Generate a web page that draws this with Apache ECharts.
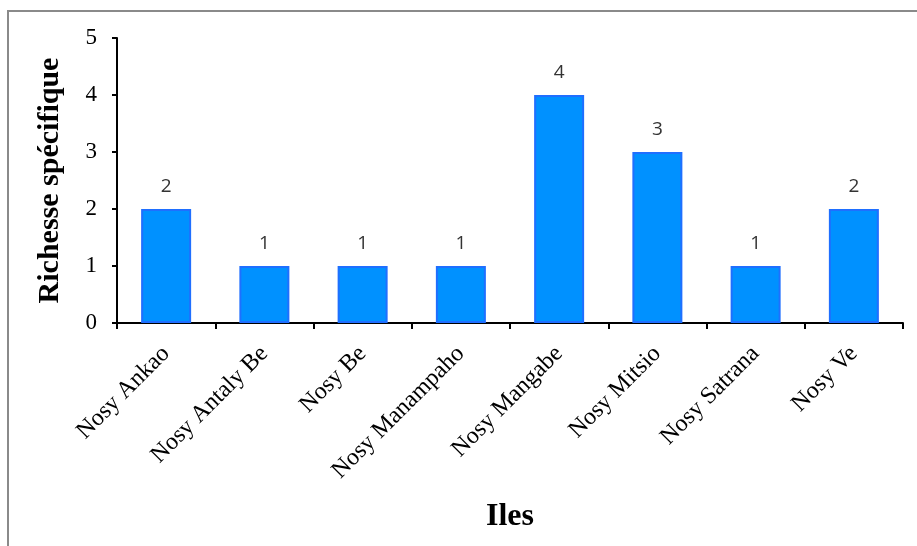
<!DOCTYPE html>
<html><head><meta charset="utf-8">
<script src="https://cdn.jsdelivr.net/npm/echarts@6/dist/echarts.min.js"></script>
<style>html,body{margin:0;padding:0;background:#fff}#c{width:917px;height:546px}</style>
</head><body><div id="c"></div>
<script>
const categories = ['Nosy Ankao','Nosy Antaly Be','Nosy Be','Nosy Manampaho','Nosy Mangabe','Nosy Mitsio','Nosy Satrana','Nosy Ve'];
const richness = [2,1,1,1,4,3,1,2];
const yTicks = [0,1,2,3,4,5];
const xTitle = 'Iles';
const yTitle = 'Richesse spécifique';

const serif = '"Liberation Serif","DejaVu Serif",serif';
const chart = echarts.init(document.getElementById('c'), null, {renderer:'canvas'});
chart.setOption({
  animation:false,
  backgroundColor:'#fff',
  graphic:[{type:'rect',shape:{x:8,y:11,width:1200,height:1200},style:{fill:'none',stroke:'#8a8a8a',lineWidth:2},silent:true}],
  grid:{left:117,right:14,top:38,bottom:223,containLabel:false},
  xAxis:{
    type:'category', data:categories,
    name:xTitle, nameLocation:'middle', nameGap:178,
    nameTextStyle:{fontFamily:serif,fontWeight:'bold',fontSize:32,color:'#000'},
    axisLine:{lineStyle:{color:'#000',width:2}},
    axisTick:{show:true,alignWithLabel:false,length:6,lineStyle:{color:'#000',width:2}},
    axisLabel:{rotate:45,margin:27,fontFamily:serif,fontSize:24,color:'#000',interval:0}
  },
  yAxis:{
    type:'value', min:yTicks[0], max:yTicks[yTicks.length-1], interval:1,
    name:yTitle, nameLocation:'middle', nameGap:52,
    nameTextStyle:{fontFamily:serif,fontWeight:'bold',fontSize:30,color:'#000'},
    axisLine:{show:true,lineStyle:{color:'#000',width:2}},
    axisTick:{show:true,length:5,lineStyle:{color:'#000',width:2}},
    splitLine:{show:false},
    axisLabel:{margin:20,fontFamily:serif,fontSize:23,color:'#000'}
  },
  series:[{
    type:'bar', data:richness, barWidth:50,
    itemStyle:{color:'#0091FF',borderColor:'#1f6fff',borderWidth:2},
    label:{show:true,position:'top',distance:13,fontFamily:'"Open Sans","Noto Sans",sans-serif',fontSize:19,color:'#333'}
  }]
});
</script></body></html>
